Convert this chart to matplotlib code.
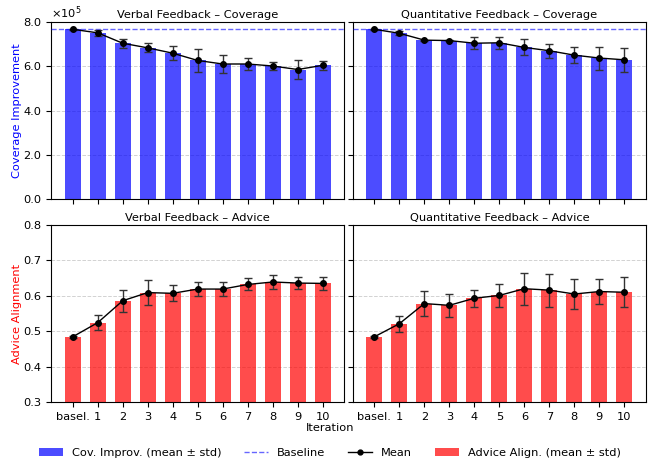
import numpy as np
import matplotlib
matplotlib.use("Agg")
import matplotlib.pyplot as plt
from matplotlib.ticker import ScalarFormatter
from matplotlib.lines import Line2D
from matplotlib.patches import Patch

labels = ["basel.", "1", "2", "3", "4", "5", "6", "7", "8", "9", "10"]

# coverage improvement (x1e5)
cov_verbal = [7.68, 7.52, 7.05, 6.84, 6.60, 6.27, 6.11, 6.11, 6.02, 5.86, 6.05]
cov_verbal_std = [0.02, 0.13, 0.20, 0.20, 0.32, 0.50, 0.40, 0.26, 0.20, 0.43, 0.20]
cov_quant = [7.68, 7.50, 7.19, 7.17, 7.05, 7.07, 6.86, 6.71, 6.51, 6.38, 6.30]
cov_quant_std = [0.02, 0.09, 0.02, 0.02, 0.27, 0.28, 0.36, 0.32, 0.35, 0.52, 0.55]
cov_baseline = 7.68

# advice alignment
adv_verbal = [0.484, 0.524, 0.586, 0.609, 0.607, 0.619, 0.619, 0.632, 0.639, 0.636, 0.635]
adv_verbal_std = [0.002, 0.021, 0.031, 0.036, 0.023, 0.021, 0.020, 0.017, 0.021, 0.018, 0.018]
adv_quant = [0.484, 0.521, 0.578, 0.573, 0.593, 0.601, 0.620, 0.616, 0.605, 0.612, 0.610]
adv_quant_std = [0.002, 0.022, 0.035, 0.033, 0.024, 0.033, 0.045, 0.047, 0.042, 0.035, 0.043]

scale = 1e5
x = np.arange(len(labels))
fs = 8.2


class OneDecFormatter(ScalarFormatter):
    def _set_format(self):
        self.format = "%1.1f"


fig, axes = plt.subplots(2, 2, figsize=(6.49, 4.63), dpi=100)
fig.subplots_adjust(left=0.079, right=0.995, top=0.952, bottom=0.132,
                    hspace=0.147, wspace=0.03)

def panel(ax, vals, std, color, title, baseline=None):
    vals = np.array(vals)
    std = np.array(std)
    ax.bar(x, vals, width=0.65, color=color, alpha=0.7, zorder=2)
    if baseline is not None:
        ax.axhline(baseline, color="blue", ls="--", lw=1, alpha=0.6, zorder=3)
    ax.errorbar(x, vals, yerr=std, fmt="-o", color="black", ms=4, lw=1,
                ecolor="#333333", elinewidth=1, capsize=3, zorder=4)
    ax.set_title(title, fontsize=fs, pad=3)
    ax.grid(axis="y", ls="--", color="gray", alpha=0.35, lw=0.7, zorder=0)
    ax.set_axisbelow(True)
    ax.tick_params(labelsize=fs)

panel(axes[0, 0], np.array(cov_verbal) * scale, np.array(cov_verbal_std) * scale,
      "blue", "Verbal Feedback \u2013 Coverage", cov_baseline * scale)
panel(axes[0, 1], np.array(cov_quant) * scale, np.array(cov_quant_std) * scale,
      "blue", "Quantitative Feedback \u2013 Coverage", cov_baseline * scale)
panel(axes[1, 0], adv_verbal, adv_verbal_std, "red", "Verbal Feedback \u2013 Advice")
panel(axes[1, 1], adv_quant, adv_quant_std, "red", "Quantitative Feedback \u2013 Advice")

for ax in axes[0]:
    ax.set_ylim(0, 8e5)
    ax.set_yticks(np.arange(0, 8.1, 2) * scale)
    fmt = OneDecFormatter(useMathText=True)
    fmt.set_powerlimits((0, 0))
    ax.yaxis.set_major_formatter(fmt)
for ax in axes[1]:
    ax.set_ylim(0.3, 0.8)
for ax in axes.flat:
    ax.set_xticks(x)
for ax in axes[0]:
    ax.set_xticklabels([])
for ax in axes[1]:
    ax.set_xticklabels(labels)
for ax in axes[:, 1]:
    ax.tick_params(labelleft=False)
axes[0, 1].yaxis.get_offset_text().set_visible(False)
axes[0, 0].yaxis.get_offset_text().set_fontsize(fs)

axes[0, 0].set_ylabel("Coverage Improvement", color="blue", fontsize=fs, labelpad=1)
axes[1, 0].set_ylabel("Advice Alignment", color="red", fontsize=fs, labelpad=1)
fig.text(0.508, 0.076, "Iteration", ha="center", va="center", fontsize=fs)

handles = [
    Patch(facecolor="blue", alpha=0.7, label="Cov. Improv. (mean \u00b1 std)"),
    Line2D([], [], color="blue", ls="--", lw=1, alpha=0.6, label="Baseline"),
    Line2D([], [], color="black", marker="o", ms=3.5, lw=1, label="Mean"),
    Patch(facecolor="red", alpha=0.7, label="Advice Align. (mean \u00b1 std)"),
]
fig.legend(handles=handles, loc="center", bbox_to_anchor=(0.508, 0.022), ncol=4,
           frameon=False, fontsize=fs, handlelength=2.1, columnspacing=2.0)

fig.savefig("out.png", dpi=100)
